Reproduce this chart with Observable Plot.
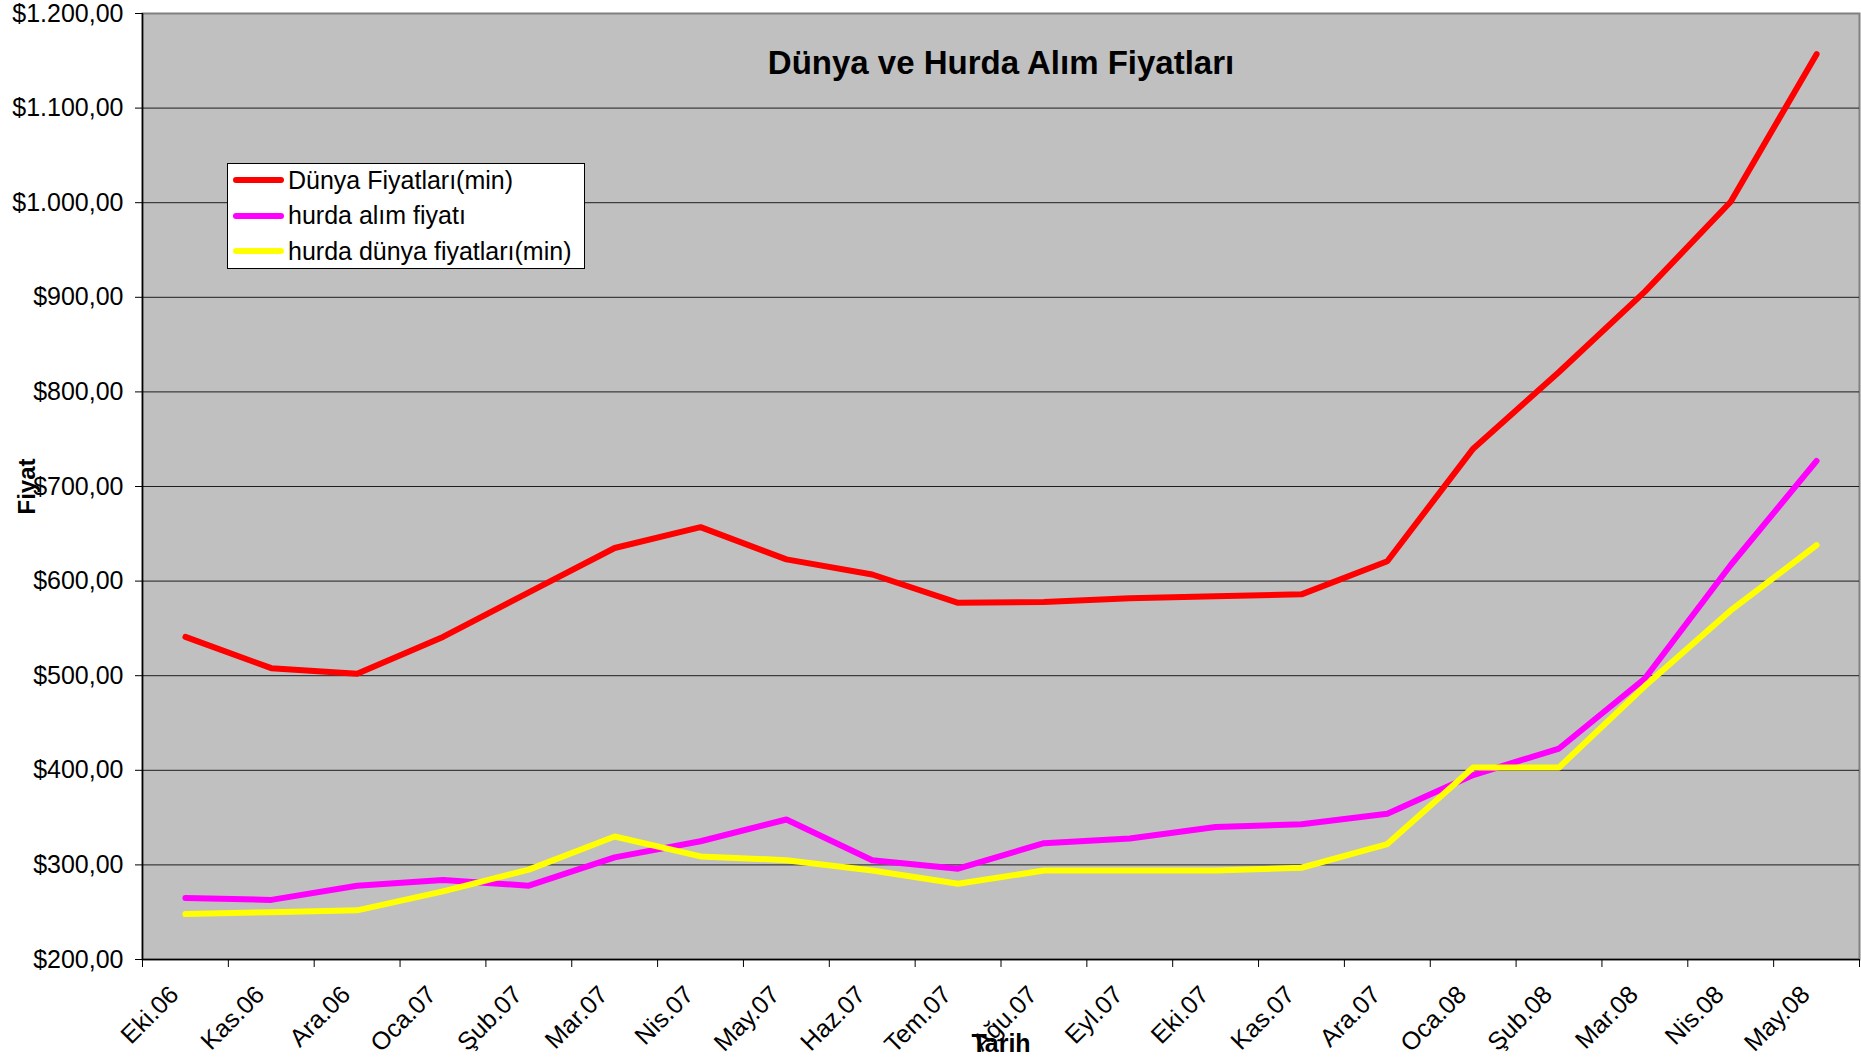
<!DOCTYPE html>
<html>
<head>
<meta charset="utf-8">
<script src="https://cdn.jsdelivr.net/npm/d3@7"></script>
<script src="https://cdn.jsdelivr.net/npm/@observablehq/plot@0.6"></script>
<style>
  html, body { margin: 0; padding: 0; background: #fff; }
  #wrap { position: relative; width: 1861px; height: 1059px; font-family: "Liberation Sans", Arial, sans-serif; }
  #legend {
    position: absolute; left: 227px; top: 163px; width: 356px; height: 104px;
    background: #fff; border: 1px solid #000; box-sizing: content-box;
  }
  .row { position: absolute; left: 0; height: 30px; display: flex; align-items: center; font-size: 25px; color: #000; white-space: nowrap; }
  .sw { display: inline-block; width: 51px; height: 6px; border-radius: 3px; margin-left: 5px; margin-right: 4px; }
</style>
</head>
<body>
<div id="wrap"></div>
<script>
const title = "Dünya ve Hurda Alım Fiyatları";
const yLabel = "Fiyat";
const xLabel = "Tarih";
const months = ["Eki.06","Kas.06","Ara.06","Oca.07","Şub.07","Mar.07","Nis.07","May.07","Haz.07","Tem.07","Ağu.07","Eyl.07","Eki.07","Kas.07","Ara.07","Oca.08","Şub.08","Mar.08","Nis.08","May.08"];
const seriesNames = ["Dünya Fiyatları(min)", "hurda alım fiyatı", "hurda dünya fiyatları(min)"];
const seriesColors = ["#FF0000", "#FF00FF", "#FFFF00"];
const dunyaFiyatlari = [541, 508, 502, 541, 588, 635, 657, 623, 607, 577, 578, 582, 584, 586, 621, 740, 821, 906, 1001, 1157];
const hurdaAlimFiyati = [265, 263, 278, 284, 278, 308, 325, 348, 305, 296, 323, 328, 340, 343, 354, 395, 423, 497, 617, 727];
const hurdaDunyaFiyatlari = [248, 250, 252, 272, 295, 330, 309, 305, 294, 280, 294, 294, 294, 297, 322, 403, 403, 489, 569, 638];
const yTicks = [200, 300, 400, 500, 600, 700, 800, 900, 1000, 1100, 1200];

const allSeries = [dunyaFiyatlari, hurdaAlimFiyati, hurdaDunyaFiyatlari];
const rows = allSeries.flatMap((vals, s) => vals.map((v, i) => ({i, v, s: seriesNames[s]})));

const trLocale = d3.formatLocale({decimal: ",", thousands: ".", grouping: [3], currency: ["$", ""]});
const fmt = trLocale.format("$,.2f");

const catIdx = months.map((_, i) => i);
const boundaries = d3.range(months.length + 1).map(i => i - 0.5);

const chart = Plot.plot({
  width: 1861,
  height: 1059,
  marginLeft: 142,
  marginTop: 13,
  marginRight: 2,
  marginBottom: 100,
  style: {fontFamily: "'Liberation Sans', Arial, sans-serif", fontSize: "25px", background: "#fff", color: "#000"},
  x: {type: "linear", domain: [-0.5, months.length - 0.5]},
  y: {domain: [200, 1200]},
  color: {domain: seriesNames, range: seriesColors},
  marks: [
    Plot.frame({fill: "#C0C0C0", stroke: "#808080", strokeWidth: 2}),
    Plot.gridY(yTicks.slice(1, -1), {stroke: "#000", strokeOpacity: 0.85, strokeWidth: 1}),
    Plot.ruleX([-0.5], {stroke: "#000", strokeWidth: 1.5}),
    Plot.ruleY([200], {stroke: "#000", strokeWidth: 1.5}),
    Plot.axisY({ticks: yTicks, tickFormat: fmt, tickSize: 7, tickPadding: 12, fontSize: 25, label: null}),
    Plot.axisX({ticks: catIdx, tickFormat: i => months[i], tickSize: 0, tickPadding: 31, dx: -11, tickRotate: -45, fontSize: 25, label: null}),
    Plot.axisX({ticks: boundaries, tickFormat: () => "", tickSize: 8, label: null}),
    Plot.line(rows, {x: "i", y: "v", z: "s", stroke: "s", strokeWidth: 6, strokeLinecap: "round", strokeLinejoin: "round"}),
    Plot.text([title], {text: d => d, frameAnchor: "top", lineAnchor: "middle", dy: 50, fontWeight: "bold", fontSize: 33}),
    Plot.text([yLabel], {text: d => d, frameAnchor: "left", textAnchor: "middle", rotate: -90, dx: -115, fontWeight: "bold", fontSize: 24}),
    Plot.text([xLabel], {text: d => d, frameAnchor: "bottom", lineAnchor: "middle", dy: 84, fontWeight: "bold", fontSize: 25})
  ]
});

const wrap = document.getElementById("wrap");
wrap.appendChild(chart);

const legend = document.createElement("div");
legend.id = "legend";
seriesNames.forEach((name, k) => {
  const r = document.createElement("div");
  r.className = "row";
  r.style.top = (1 + k * 35.5) + "px";
  const sw = document.createElement("span");
  sw.className = "sw";
  sw.style.background = seriesColors[k];
  const t = document.createElement("span");
  t.textContent = name;
  r.appendChild(sw);
  r.appendChild(t);
  legend.appendChild(r);
});
wrap.appendChild(legend);
</script>
</body>
</html>
